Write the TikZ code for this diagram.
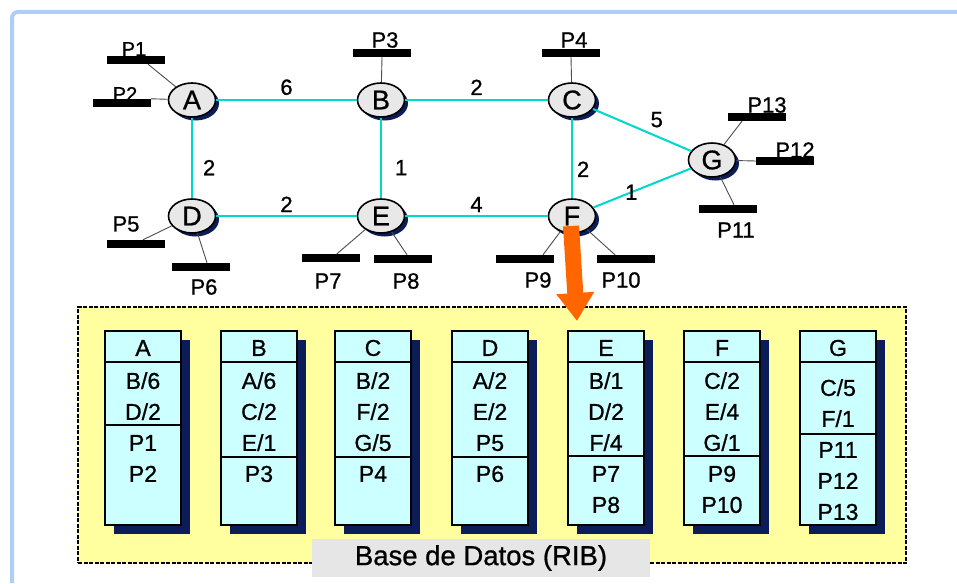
\documentclass[tikz,border=0pt]{standalone}
\usepackage{fontspec}
\setmainfont{Liberation Sans}[UprightFeatures={FakeBold=0.9}]
\usepackage{tikz}
\usetikzlibrary{shapes.geometric,arrows.meta,calc,shadows}
\definecolor{linkcyan}{RGB}{0,215,205}
\definecolor{shadownavy}{RGB}{12,28,88}
\definecolor{rowcyan}{RGB}{204,255,255}
\definecolor{dbyellow}{RGB}{255,255,160}
\definecolor{feedorange}{RGB}{255,102,0}
\definecolor{frameblue}{RGB}{175,205,245}
\definecolor{routergrey}{RGB}{232,232,232}
\definecolor{titlegrey}{RGB}{230,230,230}

\begin{document}
\begin{tikzpicture}[x=1pt, y=-1pt,
    router/.style={ellipse, draw=black, line width=1.6pt, fill=routergrey,
                minimum width=47pt, minimum height=34pt, inner sep=0pt, font=\fontsize{27}{27}\selectfont,
                drop shadow={shadow xshift=3.5pt, shadow yshift=-3.5pt, fill=shadownavy, opacity=1}},
    host/.style={rectangle, fill=black, minimum width=58pt, minimum height=8pt, inner sep=0pt},
    hname/.style={inner sep=0pt, font=\fontsize{22}{22}\selectfont},
    link/.style={draw=linkcyan, line width=2pt},
    tap/.style={draw=black!70, line width=0.9pt},
    weight/.style={inner sep=0pt, font=\fontsize{22}{22}\selectfont},
    tbl/.style={rectangle, draw=black, line width=1.6pt, fill=rowcyan,
                minimum width=76pt, minimum height=194pt, inner sep=0pt,
                drop shadow={shadow xshift=9pt, shadow yshift=-9pt, fill=shadownavy, opacity=1}},
    cell/.style={inner sep=0pt, font=\fontsize{23}{31}\selectfont},
    rows/.style={cell, anchor=north, align=center},
    rule/.style={draw=black, line width=1.6pt},
    dbbox/.style={rectangle, draw=black, line width=1.3pt, dash pattern=on 4pt off 1.5pt,
                fill=dbyellow, minimum width=828pt, minimum height=256pt, inner sep=0pt},
    dbtitle/.style={rectangle, fill=titlegrey, minimum width=338pt, minimum height=38pt,
                inner sep=0pt, font=\fontsize{27.5}{27.5}\selectfont},
    feed/.style={-{Triangle[width=36pt,length=28pt]}, line width=16pt, draw=feedorange}
]
    \useasboundingbox (0,0) rectangle (957,583);
    \draw[frameblue, line width=4pt, rounded corners=6pt] (12,583) -- (12,12) -- (957,12);

    % routers
    \node[router] (A) at (192,100) {A};
    \node[router] (B) at (381,100) {B};
    \node[router] (C) at (572,100) {C};
    \node[router] (D) at (192,216) {D};
    \node[router] (E) at (381,216) {E};
    \node[router] (F) at (572,216) {F};
    \node[router] (G) at (712,160) {G};

    \draw[link] (A) -- node[weight, above=4pt] (wAB) {6} (B);
    \draw[link] (B) -- node[weight, above=4pt] (wBC) {2} (C);
    \draw[link] (D) -- node[weight, above=3pt] (wDE) {2} (E);
    \draw[link] (E) -- node[weight, above=3pt] (wEF) {4} (F);
    \draw[link] (A) -- node[weight, pos=0.62, right=10pt] (wAD) {2} (D);
    \draw[link] (B) -- node[weight, pos=0.62, right=13pt] (wBE) {1} (E);
    \draw[link] (C) -- node[weight, pos=0.64, right=4pt] (wCF) {2} (F);
    \draw[link] (C) -- node[weight, pos=0.65, above=8pt] (wCG) {5} (G);
    \draw[link] (F) -- node[weight, pos=0.39] (wFG) {1} (G);

    % hosts
    \node[host] (p1)  at (136,60)  {};
    \node[host] (p2)  at (122,103) {};
    \node[host] (p3)  at (382,53)  {};
    \node[host] (p4)  at (571,53)  {};
    \node[host] (p5)  at (136,244) {};
    \node[host] (p6)  at (201,267) {};
    \node[host] (p7)  at (331,258) {};
    \node[host] (p8)  at (403,259) {};
    \node[host] (p9)  at (525,259) {};
    \node[host] (p10) at (626,259) {};
    \node[host] (p11) at (728,209) {};
    \node[host] (p12) at (785,161) {};
    \node[host] (p13) at (757,117) {};

    \node[hname, font=\fontsize{20}{20}\selectfont] (lp1) at (134,49) {P1};
    \node[hname, font=\fontsize{20}{20}\selectfont] (lp2) at (125,94) {P2};
    \node[hname] (lp3)  at (385,40)  {P3};
    \node[hname] (lp4)  at (574,40)  {P4};
    \node[hname] (lp5)  at (126,224) {P5};
    \node[hname] (lp6)  at (204,287) {P6};
    \node[hname] (lp7)  at (328,281) {P7};
    \node[hname] (lp8)  at (406,281) {P8};
    \node[hname] (lp9)  at (538,280) {P9};
    \node[hname] (lp10) at (621,280) {P10};
    \node[hname] (lp11) at (736,230) {P11};
    \node[hname] (lp12) at (795,150) {P12};
    \node[hname] (lp13) at (767,105) {P13};

    \draw[tap] ([xshift=12pt]p1.south) -- (A);
    \draw[tap] (p2.north east) -- (A);
    \draw[tap] (p3.south) -- (B);
    \draw[tap] (p4.south) -- (C);
    \draw[tap] ([xshift=7pt]p5.north) -- (D);
    \draw[tap] ([xshift=6pt]p6.north) -- (D);
    \draw[tap] ([xshift=6pt]p7.north) -- (E);
    \draw[tap] ([xshift=4pt]p8.north) -- (E);
    \draw[tap] ([xshift=18pt]p9.north) -- (F);
    \draw[tap] ([xshift=-11pt]p10.north) -- (F);
    \draw[tap] ([xshift=6pt]p11.north) -- (G);
    \draw[tap] (p12.west) -- (G);
    \draw[tap] ([xshift=-15pt]p13.south) -- (G);

    % routing database
    \node[dbbox] (db) at (492,435) {};
    \node[dbtitle] (rib) at (481,558) {Base de Datos (RIB)};

    \node[tbl] (tA) at (143,428) {};
    \node[cell] (hA) at (143,348) {A};
    \node[rows] (rA) at (143,372) {B/6\\D/2\\P1\\P2};
    \draw[rule] ($(tA.north west)+(0,32)$) -- ($(tA.north east)+(0,32)$);
    \draw[rule] ($(tA.north west)+(0,95)$) -- ($(tA.north east)+(0,95)$);

    \node[tbl] (tB) at (259,428) {};
    \node[cell] (hB) at (259,348) {B};
    \node[rows] (rB) at (259,372) {A/6\\C/2\\E/1\\P3};
    \draw[rule] ($(tB.north west)+(0,32)$) -- ($(tB.north east)+(0,32)$);
    \draw[rule] ($(tB.north west)+(0,127)$) -- ($(tB.north east)+(0,127)$);

    \node[tbl] (tC) at (373,428) {};
    \node[cell] (hC) at (373,348) {C};
    \node[rows] (rC) at (373,372) {B/2\\F/2\\G/5\\P4};
    \draw[rule] ($(tC.north west)+(0,32)$) -- ($(tC.north east)+(0,32)$);
    \draw[rule] ($(tC.north west)+(0,127)$) -- ($(tC.north east)+(0,127)$);

    \node[tbl] (tD) at (490,428) {};
    \node[cell] (hD) at (490,348) {D};
    \node[rows] (rD) at (490,372) {A/2\\E/2\\P5\\P6};
    \draw[rule] ($(tD.north west)+(0,32)$) -- ($(tD.north east)+(0,32)$);
    \draw[rule] ($(tD.north west)+(0,127)$) -- ($(tD.north east)+(0,127)$);

    \node[tbl] (tE) at (606,428) {};
    \node[cell] (hE) at (606,348) {E};
    \node[rows] (rE) at (606,372) {B/1\\D/2\\F/4\\P7\\P8};
    \draw[rule] ($(tE.north west)+(0,32)$) -- ($(tE.north east)+(0,32)$);
    \draw[rule] ($(tE.north west)+(0,126)$) -- ($(tE.north east)+(0,126)$);

    \node[tbl] (tF) at (722,428) {};
    \node[cell] (hF) at (722,348) {F};
    \node[rows] (rF) at (722,372) {C/2\\E/4\\G/1\\P9\\P10};
    \draw[rule] ($(tF.north west)+(0,32)$) -- ($(tF.north east)+(0,32)$);
    \draw[rule] ($(tF.north west)+(0,126)$) -- ($(tF.north east)+(0,126)$);

    \node[tbl] (tG) at (838,428) {};
    \node[cell] (hG) at (838,348) {G};
    \node[rows] (rG) at (838,379) {C/5\\F/1\\P11\\P12\\P13};
    \draw[rule] ($(tG.north west)+(0,32)$) -- ($(tG.north east)+(0,32)$);
    \draw[rule] ($(tG.north west)+(0,104)$) -- ($(tG.north east)+(0,104)$);

    % F floods its state into the RIB
    \coordinate (drop) at (577,321);
    \draw[feed] ([xshift=-1pt,yshift=-10pt]F.center) -- (drop);
\end{tikzpicture}
\end{document}
